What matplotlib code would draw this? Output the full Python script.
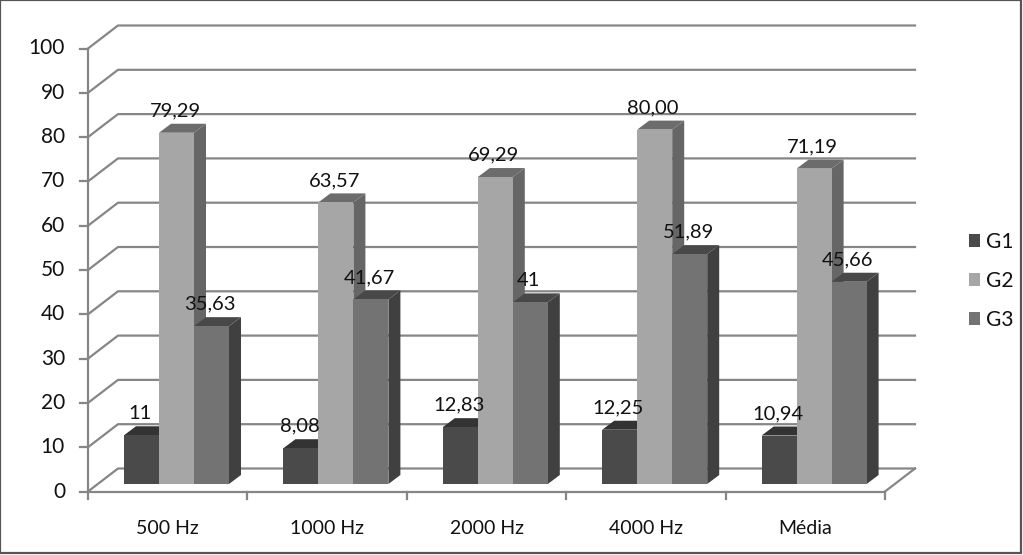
import matplotlib.pyplot as plt
from matplotlib.patches import Patch, Polygon

categories = ['500 Hz', '1000 Hz', '2000 Hz', '4000 Hz', 'Média']
g1 = [11, 8.08, 12.83, 12.25, 10.94]
g2 = [79.29, 63.57, 69.29, 80.00, 71.19]
g3 = [35.63, 41.67, 41, 51.89, 45.66]
labels_g1 = ['11', '8,08', '12,83', '12,25', '10,94']
labels_g2 = ['79,29', '63,57', '69,29', '80,00', '71,19']
labels_g3 = ['35,63', '41,67', '41', '51,89', '45,66']
y_ticks = list(range(0, 101, 10))

plt.rcParams['font.family'] = ['Lato', 'DejaVu Sans']

W, H = 1023, 555
fig = plt.figure(figsize=(W / 100, H / 100), dpi=100)
ax = fig.add_axes([88 / W, 1 - 491.5 / H, 797 / W, 443 / H])
ax.set_xlim(0, len(categories))
ax.set_ylim(0, 100)
ax.axis('off')

# pixels to data units, the fake 3d depth is worked out in pixels
sx = len(categories) / 797
sy = 100 / 443
grid_col = '#868686'
depth_x, depth_y = 30 * sx, 23 * sy

# walls and grid
for t in y_ticks:
    ax.plot([0, depth_x, len(categories) + depth_x], [t, t + depth_y, t + depth_y],
            color=grid_col, lw=1.6, clip_on=False, zorder=1)
    ax.plot([-8 * sx, 0], [t, t], color=grid_col, lw=1.6, clip_on=False, zorder=1)
    ax.text(-23 * sx, t, str(t), ha='right', va='center', fontsize=15, color='#111111')
ax.plot([0, 0], [0, 100], color=grid_col, lw=1.6, clip_on=False, zorder=1)
ax.plot([0, len(categories)], [0, 0], color=grid_col, lw=1.6, clip_on=False, zorder=1)
ax.plot([len(categories), len(categories) + depth_x], [0, depth_y],
        color=grid_col, lw=1.6, clip_on=False, zorder=1)

for i in range(len(categories) + 1):
    ax.plot([i, i], [0, -7 * sy], color=grid_col, lw=1.6, clip_on=False, zorder=1)
for i, name in enumerate(categories):
    ax.text(i + 0.5, -37 * sy, name, ha='center', va='center', fontsize=14, color='#111111')

# bars
bar_w = 35 * sx
off_x, off_y = 36 * sx, 7.5 * sy
side_x, side_y = 12 * sx, 9 * sy


def draw_bar(x0, v, front, side, top, z):
    x1 = x0 + bar_w
    ax.add_patch(Polygon([(x1, off_y), (x1 + side_x, off_y + side_y),
                          (x1 + side_x, off_y + v + side_y), (x1, off_y + v)],
                         fc=side, ec='none', zorder=z, clip_on=False))
    ax.add_patch(Polygon([(x0, off_y + v), (x1, off_y + v),
                          (x1 + side_x, off_y + v + side_y), (x0 + side_x, off_y + v + side_y)],
                         fc=top, ec='none', zorder=z, clip_on=False))
    ax.add_patch(Polygon([(x0, off_y), (x1, off_y), (x1, off_y + v), (x0, off_y + v)],
                         fc=front, ec='none', zorder=z, clip_on=False))


series = [(g1, labels_g1, '#4a4a4a', '#383838', '#333333'),
          (g2, labels_g2, '#a6a6a6', '#666666', '#6c6c6c'),
          (g3, labels_g3, '#737373', '#404040', '#484848')]

for i in range(len(categories)):
    for j, (vals, labs, front, side, top) in enumerate(series):
        x0 = i + off_x + j * bar_w
        draw_bar(x0, vals[i], front, side, top, 2 + j)
        ax.text(x0 + bar_w / 2 - 1.5 * sx, off_y + vals[i] + 22 * sy, labs[i], ha='center', va='center',
                fontsize=14.5, color='#111111', zorder=10)

# legend
handles = [Patch(fc=s[2], ec='none', label=n) for s, n in zip(series, ['G1', 'G2', 'G3'])]
fig.legend(handles=handles, loc='center left', bbox_to_anchor=(968.5 / W, 1 - 281 / H),
           frameon=False, fontsize=15, handlelength=0.55, handleheight=0.55,
           handletextpad=0.3, labelspacing=0.91, borderpad=0, borderaxespad=0,
           labelcolor='#111111')

# outer frame
fig.add_artist(plt.Rectangle((0, 2 / H), 1 - 2 / W, 1 - 2 / H, transform=fig.transFigure,
                             fc='none', ec='#555555', lw=1.6))

fig.savefig('out.png', dpi=100)
